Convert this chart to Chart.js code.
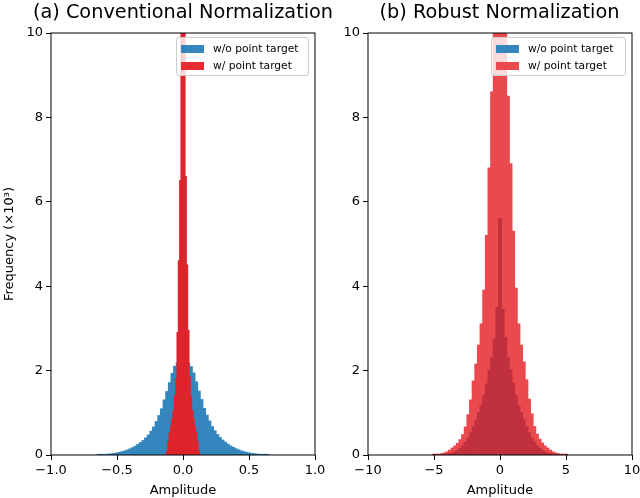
<!DOCTYPE html>
<html>
<head>
<meta charset="utf-8">
<script src="https://cdn.jsdelivr.net/npm/chart.js@4.4.0/dist/chart.umd.min.js"></script>
<style>
  html, body { margin: 0; padding: 0; background: #fff; }
  #wrap { position: relative; width: 640px; height: 498px; overflow: hidden; font-family: "DejaVu Sans", sans-serif; }
  #wrap canvas { position: absolute; left: 0; top: 0; }
  .title { position: absolute; top: 0; height: 24px; line-height: 24px; text-align: center; font-size: 19.3px; color: #000; white-space: nowrap; }
  .legend { position: absolute; z-index: 5; box-sizing: border-box; height: 39px; border: 1px solid #cccccc; border-radius: 3px; background: rgba(255,255,255,0.8); font-size: 10.7px; color: #000; }
  .legend .row { position: absolute; left: 0; right: 0; height: 12px; line-height: 12px; white-space: nowrap; }
  .legend .patch { position: absolute; left: 4px; top: 2px; width: 23px; height: 8px; }
  .legend .label { position: absolute; left: 36px; top: 0; }
</style>
</head>
<body>
<div id="wrap">
  <canvas id="panelA" width="640" height="498"></canvas>
  <canvas id="panelB" width="640" height="498"></canvas>
  <div class="title" style="left:3px; width:360px;">(a) Conventional Normalization</div>
  <div class="title" style="left:320px; width:359px;">(b) Robust Normalization</div>
  <div class="legend" style="left:176px; top:37px; width:133px;">
    <div class="row" style="top:5px;"><div class="patch" id="patchA1"></div><span class="label">w/o point target</span></div>
    <div class="row" style="top:22px;"><div class="patch" id="patchA2"></div><span class="label">w/ point target</span></div>
  </div>
  <div class="legend" style="left:491px; top:37px; width:135px;">
    <div class="row" style="top:5px;"><div class="patch" id="patchB1"></div><span class="label">w/o point target</span></div>
    <div class="row" style="top:22px;"><div class="patch" id="patchB2"></div><span class="label">w/ point target</span></div>
  </div>
</div>
<script>
// (a) conventional normalization, counts in x10^3
// w/o point target: bins of 0.02
const binsA = [
  -0.64, -0.62, -0.60, -0.58, -0.56, -0.54, -0.52, -0.50, -0.48, -0.46, -0.44,
  -0.42, -0.40, -0.38, -0.36, -0.34, -0.32, -0.30, -0.28, -0.26, -0.24, -0.22,
  -0.20, -0.18, -0.16, -0.14, -0.12, -0.10, -0.08, -0.06, -0.04, -0.02, 0.00,
  0.02, 0.04, 0.06, 0.08, 0.10, 0.12, 0.14, 0.16, 0.18, 0.20, 0.22, 0.24,
  0.26, 0.28, 0.30, 0.32, 0.34, 0.36, 0.38, 0.40, 0.42, 0.44, 0.46, 0.48,
  0.50, 0.52, 0.54, 0.56, 0.58, 0.60, 0.62, 0.64
];
const noTargetA = [
  0.003, 0.005, 0.008, 0.012, 0.017, 0.024, 0.033, 0.044, 0.058, 0.074, 0.092,
  0.114, 0.140, 0.170, 0.205, 0.245, 0.290, 0.340, 0.400, 0.470, 0.560, 0.660,
  0.790, 0.930, 1.090, 1.300, 1.500, 1.710, 1.930, 2.100, 2.180, 2.230, 2.250,
  2.220, 2.170, 2.090, 1.940, 1.730, 1.510, 1.310, 1.100, 0.940, 0.800, 0.670, 0.570,
  0.480, 0.410, 0.350, 0.300, 0.250, 0.210, 0.175, 0.145, 0.117, 0.094, 0.075, 0.059,
  0.045, 0.034, 0.025, 0.018, 0.012, 0.008, 0.005, 0.003
];
// w/ point target: narrow spike, bins of 0.01
const binsRedA = [
  -0.13, -0.12, -0.11, -0.10, -0.09, -0.08, -0.07, -0.06, -0.05, -0.04, -0.03, -0.02, -0.01,
  0.00,
  0.01, 0.02, 0.03, 0.04, 0.05, 0.06, 0.07, 0.08, 0.09, 0.10, 0.11, 0.12, 0.13
];
const withTargetA = [
  0.01, 0.08, 0.30, 0.52, 0.68, 0.85, 1.05, 1.40, 1.80, 2.90, 4.60, 6.50, 11.0,
  20.0,
  10.8, 6.60, 4.50, 2.95, 1.85, 1.38, 1.05, 0.86, 0.67, 0.53, 0.31, 0.09, 0.01
];

// (b) robust normalization, bins of 0.2
const binsB = [
  -5.0, -4.8, -4.6, -4.4, -4.2, -4.0, -3.8, -3.6, -3.4, -3.2, -3.0, -2.8, -2.6,
  -2.4, -2.2, -2.0, -1.8, -1.6, -1.4, -1.2, -1.0, -0.8, -0.6, -0.4, -0.2, 0.0,
  0.2, 0.4, 0.6, 0.8, 1.0, 1.2, 1.4, 1.6, 1.8, 2.0, 2.2, 2.4, 2.6,
  2.8, 3.0, 3.2, 3.4, 3.6, 3.8, 4.0, 4.2, 4.4, 4.6, 4.8, 5.0
];
const noTargetB = [
  0.001, 0.002, 0.004, 0.007, 0.012, 0.02, 0.03, 0.045, 0.07, 0.10, 0.15, 0.21, 0.30,
  0.40, 0.52, 0.66, 0.82, 1.00, 1.18, 1.40, 1.68, 2.00, 2.30, 2.75, 3.50, 5.60,
  3.45, 2.78, 2.30, 2.02, 1.70, 1.40, 1.17, 1.00, 0.83, 0.67, 0.52, 0.40, 0.30,
  0.21, 0.15, 0.10, 0.07, 0.045, 0.03, 0.02, 0.012, 0.007, 0.004, 0.002, 0.001
];
const withTargetB = [
  0.003, 0.006, 0.012, 0.025, 0.045, 0.07, 0.11, 0.16, 0.21, 0.27, 0.36, 0.48, 0.66,
  0.95, 1.30, 1.75, 2.15, 2.60, 3.10, 3.90, 5.20, 6.80, 8.60, 10.4, 12.2, 13.5,
  12.0, 10.3, 8.50, 6.90, 5.30, 3.95, 3.10, 2.60, 2.20, 1.78, 1.32, 0.97, 0.67,
  0.49, 0.37, 0.28, 0.21, 0.16, 0.11, 0.07, 0.045, 0.025, 0.012, 0.006, 0.003
];

// tick labels
const ampTicksA = [-1.0, -0.5, 0.0, 0.5, 1.0];
const ampTicksB = [-10, -5, 0, 5, 10];
const freqTicks = [0, 2, 4, 6, 8, 10];

const FONT = "DejaVu Sans";
// flat colours = the semi-transparent matplotlib fills as they look on white / on each other
const BLUE = "rgb(52, 134, 189)";
const RED_A = "rgb(222, 36, 44)";
const RED_A_KEY = "rgb(230, 44, 48)";
const RED_B = "rgb(234, 74, 78)";
const RED_OVER_BLUE = "rgb(192, 48, 62)";

// full box round the axes, like the matplotlib spines
const spinesPlugin = {
  id: "spines",
  afterDatasetsDraw(chart) {
    const a = chart.chartArea;
    const ctx = chart.ctx;
    ctx.save();
    ctx.strokeStyle = "#000";
    ctx.lineWidth = 1;
    ctx.strokeRect(a.left, a.top, a.right - a.left, a.bottom - a.top);
    ctx.restore();
  },
};

function toPoints(bins, counts) {
  return bins.map((x, i) => ({ x: x, y: counts[i] }));
}

function minus(s) {
  return s.replace("-", "\u2212");
}

function ampAxis(ticks, fmt, hidden) {
  return {
    type: "linear",
    display: !hidden,
    min: ticks[0],
    max: ticks[ticks.length - 1],
    offset: false,
    afterBuildTicks: (s) => { s.ticks = ticks.map((v) => ({ value: v })); },
    afterFit: (s) => { if (!hidden) s.height = 43; s.paddingLeft = 0; s.paddingRight = 0; },
    grid: { drawOnChartArea: false, offset: false, tickLength: 5, tickColor: "#000", tickWidth: 1 },
    border: { display: false },
    ticks: {
      color: "#000",
      font: { family: FONT, size: 13 },
      padding: 3,
      maxRotation: 0,
      autoSkip: false,
      callback: fmt,
    },
    title: {
      display: !hidden,
      text: "Amplitude",
      color: "#000",
      font: { family: FONT, size: 13 },
      padding: 0,
    },
  };
}

function makePanel(canvasId, cfg) {
  const ctx = document.getElementById(canvasId).getContext("2d");
  return new Chart(ctx, {
    type: "bar",
    data: { datasets: cfg.datasets },
    options: {
      responsive: false,
      animation: false,
      events: [],
      layout: { padding: { left: cfg.padLeft, right: cfg.padRight, top: 33, bottom: 0 } },
      datasets: {
        bar: {
          grouped: false,
          barPercentage: 1,
          categoryPercentage: 1,
          borderWidth: 0,
          inflateAmount: 0.6,
        },
      },
      plugins: {
        legend: { display: false },
        tooltip: { enabled: false },
        title: { display: false },
      },
      scales: {
        x: ampAxis(cfg.ticks, cfg.fmt, false),
        x2: ampAxis(cfg.ticks, cfg.fmt, true),
        y: {
          min: 0,
          max: 10,
          afterBuildTicks: (s) => { s.ticks = freqTicks.map((v) => ({ value: v })); },
          afterFit: (s) => { s.width = cfg.yWidth; s.paddingTop = 0; s.paddingBottom = 0; },
          grid: { drawOnChartArea: false, tickLength: 5, tickColor: "#000", tickWidth: 1 },
          border: { display: false },
          ticks: {
            color: "#000",
            font: { family: FONT, size: 13 },
            padding: 3,
          },
          title: {
            display: cfg.yTitle,
            text: "Frequency (\u00d710\u00b3)",
            color: "#000",
            font: { family: FONT, size: 13 },
            padding: { top: 2, bottom: 0 },
          },
        },
      },
    },
    plugins: [spinesPlugin],
  });
}

// (a): red spike drawn over the blue histogram (own bin width, own hidden x axis)
makePanel("panelA", {
  datasets: [
    { label: "w/o point target", data: toPoints(binsA, noTargetA), backgroundColor: BLUE, xAxisID: "x", order: 2 },
    { label: "w/ point target", data: toPoints(binsRedA, withTargetA), backgroundColor: RED_A, xAxisID: "x2", order: 1 },
  ],
  ticks: ampTicksA,
  fmt: (v) => minus(v.toFixed(1)),
  padLeft: 0,
  padRight: 325,
  yWidth: 51,
  yTitle: true,
});

// (b): the blue histogram lies wholly under the red one, so it shows as red-over-blue
makePanel("panelB", {
  datasets: [
    { label: "w/o point target", data: toPoints(binsB, noTargetB), backgroundColor: RED_OVER_BLUE, xAxisID: "x", order: 1 },
    { label: "w/ point target", data: toPoints(binsB, withTargetB), backgroundColor: RED_B, xAxisID: "x", order: 2 },
  ],
  ticks: ampTicksB,
  fmt: (v) => minus(String(v)),
  padLeft: 320,
  padRight: 8,
  yWidth: 48,
  yTitle: false,
});

document.getElementById("patchA1").style.background = BLUE;
document.getElementById("patchA2").style.background = RED_A_KEY;
document.getElementById("patchB1").style.background = BLUE;
document.getElementById("patchB2").style.background = RED_B;
</script>
</body>
</html>
